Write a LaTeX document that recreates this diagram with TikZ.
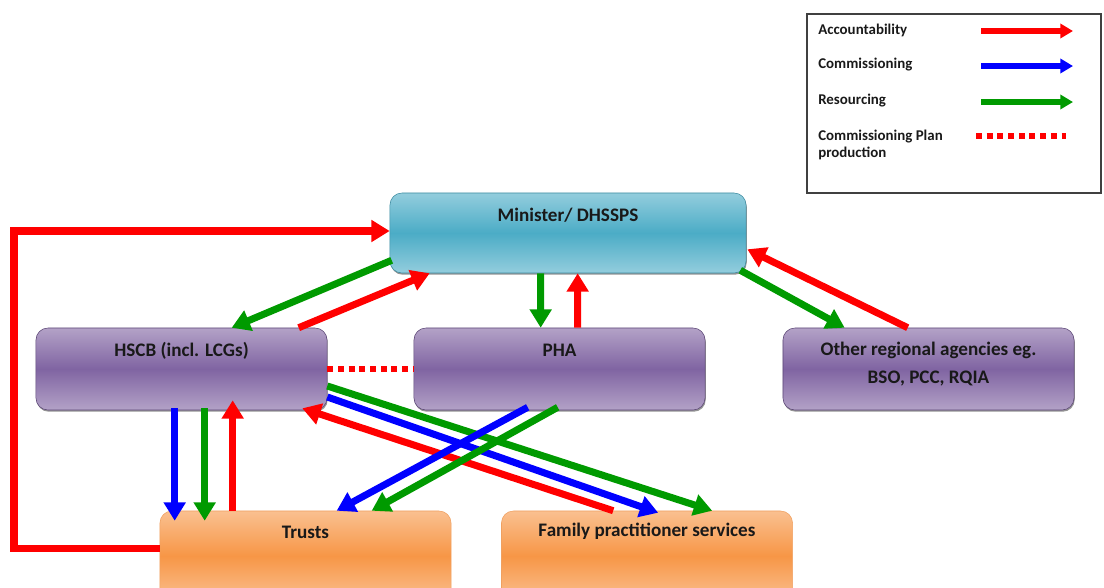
\documentclass[tikz,border=0pt]{standalone}
\usepackage{fontspec}
\setmainfont{Carlito}
\usepackage{xcolor}
\usepackage{tikz}
\usetikzlibrary{arrows.meta,calc,shadows}

\definecolor{acccol}{HTML}{FF0000}
\definecolor{comcol}{HTML}{0000FF}
\definecolor{rescol}{HTML}{009A00}
\definecolor{tealtop}{HTML}{93CDDD}
\definecolor{tealmid}{HTML}{4BACC6}
\definecolor{tealedge}{HTML}{3D8CA1}
\definecolor{purptop}{HTML}{B3A2C7}
\definecolor{purpmid}{HTML}{8064A2}
\definecolor{purpedge}{HTML}{5C4776}
\definecolor{orgtop}{HTML}{FAC090}
\definecolor{orgmid}{HTML}{F79646}
\definecolor{orgedge}{HTML}{F0A060}

\begin{document}
\begin{tikzpicture}[
x=0.025cm,
y=-0.025cm,
every node/.style={font=\fontsize{13.6}{20}\selectfont\bfseries,text=black!90},
ministerbox/.style={rectangle,rounded corners=0.3cm,draw=tealedge,top color=tealtop,bottom color=tealtop,middle color=tealmid,inner sep=0pt,minimum width=8.9cm,minimum height=2cm,drop shadow={shadow xshift=0.5pt,shadow yshift=-1.2pt,fill=black!60,opacity=0.7}},
agencybox/.style={rectangle,rounded corners=0.3cm,draw=purpedge,top color=purptop,bottom color=purptop,middle color=purpmid,inner sep=0pt,minimum width=7.275cm,minimum height=2.05cm,drop shadow={shadow xshift=0.5pt,shadow yshift=-1.2pt,fill=black!60,opacity=0.7}},
providerbox/.style={rectangle,rounded corners=0.3cm,draw=orgedge,top color=orgtop,bottom color=orgtop,middle color=orgmid,inner sep=0pt,minimum width=7.275cm,minimum height=2.25cm},
keybox/.style={rectangle,draw=black!75,line width=0.8pt,inner sep=0pt,minimum width=7.35cm,minimum height=4.475cm},
keytext/.style={font=\fontsize{10.6}{12.7}\selectfont\bfseries,align=left,anchor=west,inner sep=0pt},
arr/.style={line width=5pt,-{Triangle[length=13pt,width=15pt]}},
accarr/.style={arr,draw=acccol},
comarr/.style={arr,draw=comcol},
resarr/.style={arr,draw=rescol},
planline/.style={draw=acccol,line width=4.5pt,dash pattern=on 4.2pt off 3.4pt},
keyarr/.style={line width=3.6pt,-{Triangle[length=9pt,width=10pt]}}
]
\useasboundingbox (0,0) rectangle (1104,587);

\node[keybox] (key) at (954,103.5) {};
\node[keytext] (acckey) at (818,30) {Accountability};
\node[keytext] (comkey) at (818,65) {Commissioning};
\node[keytext] (reskey) at (818,101) {Resourcing};
\node[keytext] (plankey) at (818,145) {Commissioning Plan\\production};
\coordinate (acca) at (981,31);
\coordinate (accb) at (1073,31);
\coordinate (coma) at (981,66);
\coordinate (comb) at (1073,66);
\coordinate (resa) at (981,102);
\coordinate (resb) at (1073,102);
\coordinate (plana) at (976,136);
\coordinate (planb) at (1066,136);
\draw[keyarr,draw=acccol] (acca) -- (accb);
\draw[keyarr,draw=comcol] (coma) -- (comb);
\draw[keyarr,draw=rescol] (resa) -- (resb);
\draw[planline] (plana) -- (planb);

\node[ministerbox] (minister) at (568,233) {};
\node[agencybox] (hscb) at (181.5,369) {};
\node[agencybox] (pha) at (559.5,369) {};
\node[agencybox] (other) at (928.5,369) {};
\node[providerbox] (trusts) at (305.5,556) {};
\node[providerbox] (family) at (647,556) {};

\node (ministertext) at ($(minister.north)+(0,23)$) {Minister/ DHSSPS};
\node (hscbtext) at ($(hscb.north)+(0,23)$) {HSCB (incl. LCGs)};
\node (phatext) at ($(pha.north)+(0,23)$) {PHA};
\node[align=center] (othertext) at ($(other.north)+(0,36)$) {Other regional agencies eg.\\BSO, PCC, RQIA};
\node (truststext) at ($(trusts.north)+(0,22)$) {Trusts};
\node (familytext) at ($(family.north)+(0,21)$) {Family practitioner services};

\coordinate (loopleft) at (14,400);
\coordinate (loopstart) at ($(trusts.north west)+(0,38)$);
\draw[accarr] (loopstart) -- (loopstart -| loopleft) |- ($(minister.west)+(0,-2)$);

\draw[resarr] ($(minister.south west)+(2,-13)$) -- ($(hscb.north west)+(196,0)$);
\draw[accarr] ($(hscb.north west)+(263,0)$) -- ($(minister.south west)+(40,0)$);
\draw[resarr] ($(minister.south west)+(151,0)$) -- ($(pha.north west)+(127,0)$);
\draw[accarr] ($(pha.north west)+(164,0)$) -- ($(minister.south west)+(188,0)$);
\draw[resarr] ($(minister.south east)+(-6,-3)$) -- ($(other.north west)+(62,0)$);
\draw[accarr] ($(other.north west)+(125,0)$) -- ($(minister.south east)+(1,-24)$);

\draw[planline] (hscb.east) -- (pha.west);

\draw[comarr] ($(hscb.south west)+(139,-2)$) -- ($(trusts.north west)+(15,10)$);
\draw[resarr] ($(hscb.south west)+(169,-2)$) -- ($(trusts.north west)+(45,10)$);
\draw[accarr] ($(trusts.north west)+(73,0)$) -- ($(hscb.south west)+(197,-10)$);

\draw[resarr] ($(hscb.east)+(0,17)$) -- ($(family.north west)+(211,0)$);
\draw[comarr] ($(hscb.east)+(0,28)$) -- ($(family.north west)+(157,2)$);
\draw[accarr] ($(family.north west)+(112,0)$) -- ($(hscb.south east)+(-25,-2)$);

\draw[comarr] ($(pha.south west)+(114,-3)$) -- ($(trusts.north west)+(177,0)$);
\draw[resarr] ($(pha.south west)+(144,-3)$) -- ($(trusts.north west)+(212,0)$);
\end{tikzpicture}
\end{document}
